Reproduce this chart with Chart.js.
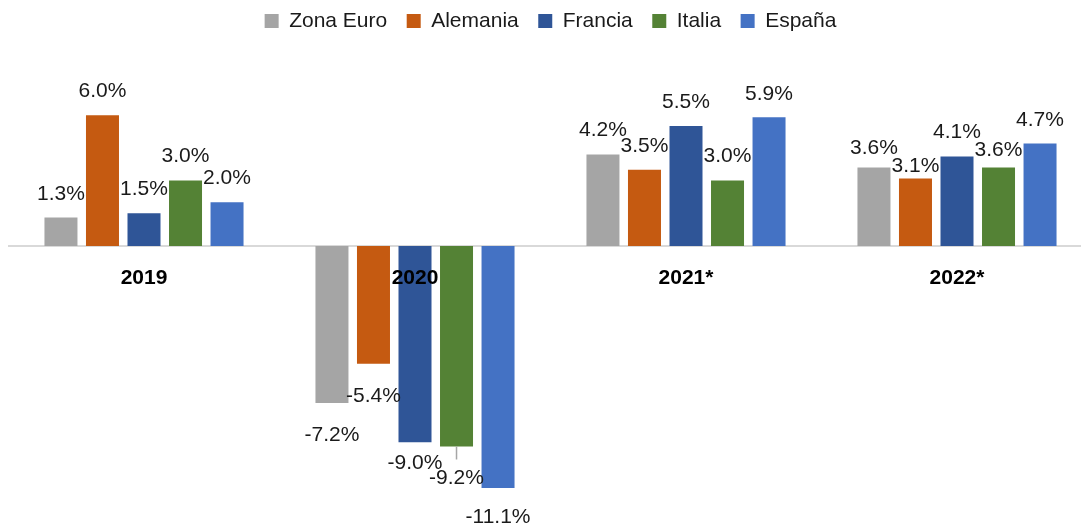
<!DOCTYPE html>
<html>
<head>
<meta charset="utf-8">
<script src="https://cdn.jsdelivr.net/npm/chart.js@4/dist/chart.umd.min.js"></script>
<style>
  html, body { margin: 0; padding: 0; background: #fff; overflow: hidden; }
  #wrap { position: relative; width: 1110px; height: 526px; }
</style>
</head>
<body>
<div id="wrap"><canvas id="chart"></canvas></div>
<script>
// ---------- data ----------
const categories = ['2019', '2020', '2021*', '2022*'];
const zonaEuro = [1.3, -7.2, 4.2, 3.6];
const alemania = [6.0, -5.4, 3.5, 3.1];
const francia  = [1.5, -9.0, 5.5, 4.1];
const italia   = [3.0, -9.2, 3.0, 3.6];
const espana   = [2.0, -11.1, 5.9, 4.7];

const seriesNames  = ['Zona Euro', 'Alemania', 'Francia', 'Italia', 'España'];
const seriesValues = [zonaEuro, alemania, francia, italia, espana];
const seriesColors = ['#A5A5A5', '#C55A11', '#2F5597', '#548235', '#4472C4'];

// distance from bar end to label baseline (Excel nudged a few to avoid overlaps)
const labelGap = [
  [18, 38, 18, 13],
  [18, 38, 18, 6],
  [18, 27, 18, 19],
  [19, 38, 19, 11],
  [18, 35, 17, 18],
];
// labels that got a leader line: [series, category]
const leaders = [[3, 1]];

const FONT = '"Liberation Sans", Arial, sans-serif';

const valueLabels = {
  id: 'valueLabels',
  afterDatasetsDraw(chart) {
    const ctx = chart.ctx;
    ctx.save();
    ctx.font = '21px ' + FONT;
    ctx.fillStyle = '#1a1a1a';
    ctx.textAlign = 'center';
    ctx.textBaseline = 'alphabetic';
    chart.data.datasets.forEach((ds, si) => {
      const meta = chart.getDatasetMeta(si);
      meta.data.forEach((bar, ci) => {
        const v = ds.data[ci];
        const gap = labelGap[si][ci];
        const y = v >= 0 ? bar.y - gap : bar.y + gap;
        ctx.fillText(v.toFixed(1) + '%', bar.x, y);
      });
    });
    ctx.strokeStyle = '#A6A6A6';
    ctx.lineWidth = 1.5;
    leaders.forEach(([si, ci]) => {
      const bar = chart.getDatasetMeta(si).data[ci];
      ctx.beginPath();
      ctx.moveTo(bar.x, bar.y);
      ctx.lineTo(bar.x, bar.y + 13);
      ctx.stroke();
    });
    ctx.restore();
  }
};

new Chart(document.getElementById('chart'), {
  type: 'bar',
  data: {
    labels: categories,
    datasets: seriesNames.map((name, i) => ({
      label: name,
      data: seriesValues[i],
      backgroundColor: seriesColors[i],
      borderWidth: 0,
      categoryPercentage: 0.766,
      barPercentage: 0.795
    }))
  },
  options: {
    responsive: true,
    maintainAspectRatio: false,
    animation: false,
    events: [],
    layout: { padding: { left: 8.5, right: 17.5, top: -9, bottom: 20 } },
    plugins: {
      legend: {
        position: 'top',
        labels: {
          font: { size: 21, family: FONT },
          color: '#1a1a1a',
          boxWidth: 14,
          boxHeight: 14,
          padding: 19.5
        }
      },
      tooltip: { enabled: false }
    },
    scales: {
      x: {
        position: { y: 0 },
        grid: { display: false, drawTicks: false },
        border: { display: true, color: '#D9D9D9', width: 2 },
        ticks: {
          z: 1,
          font: { size: 21, weight: 'bold', family: FONT },
          color: '#000',
          padding: 20
        }
      },
      y: {
        display: false,
        min: -11.93,
        max: 9.38
      }
    }
  },
  plugins: [valueLabels]
});
</script>
</body>
</html>
